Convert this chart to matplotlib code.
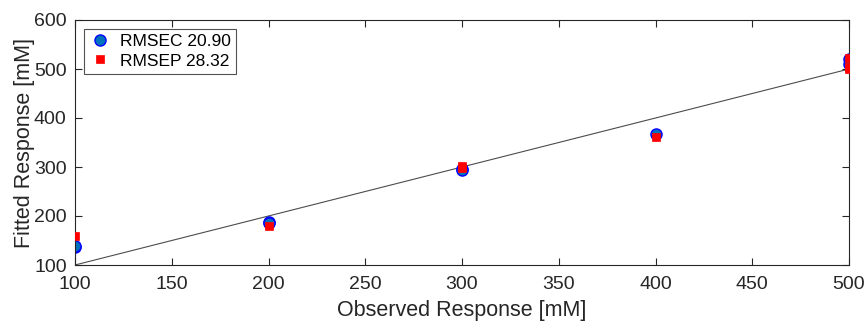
import matplotlib
matplotlib.use("Agg")
import matplotlib.pyplot as plt

cal_x = [100, 100, 200, 200, 300, 300, 400, 500, 500]
cal_y = [137, 138, 188, 186, 296, 294, 367, 520, 510]
pred_x = [100, 200, 300, 300, 400, 500, 500, 500]
pred_y = [160, 180, 302, 298, 361, 522, 504, 500]
line_x = [100, 500]
line_y = [100, 500]
xticks = [100, 150, 200, 250, 300, 350, 400, 450, 500]
yticks = [100, 200, 300, 400, 500, 600]

plt.rcParams['font.family'] = ['Liberation Sans', 'DejaVu Sans']
fig = plt.figure(figsize=(8.68, 3.22), dpi=100)
ax = fig.add_axes([75/868, 1-265/322, (849-75)/868, (265-20)/322])

ax.plot(line_x, line_y, color=(0.3, 0.3, 0.3), lw=0.8, zorder=1)
ax.plot(cal_x, cal_y, 'o', ms=8, mfc=(0, 0.447, 0.741), mec=(0, 0, 1), mew=1.0,
        ls='none', label='RMSEC 20.90', zorder=2)
ax.plot(pred_x, pred_y, 's', ms=6, mfc='red', mec='red', mew=0.5,
        ls='none', label='RMSEP 28.32', zorder=3)

ax.set_xlim(100, 500)
ax.set_ylim(100, 600)
ax.set_xticks(xticks)
ax.set_yticks(yticks)
ax.tick_params(direction='in', which='both', top=True, right=True, length=5,
               labelsize=14, colors=(0.15, 0.15, 0.15), width=0.8)
ax.tick_params(axis='x', pad=8)
ax.tick_params(axis='y', pad=6)
for s in ax.spines.values():
    s.set_color((0.15, 0.15, 0.15))
    s.set_linewidth(0.8)
ax.set_xlabel('Observed Response [mM]', fontsize=15.5, color=(0.15, 0.15, 0.15), labelpad=5)
ax.set_ylabel('Fitted Response [mM]', fontsize=15.5, color=(0.15, 0.15, 0.15), labelpad=-1)

leg = ax.legend(loc='upper left', fontsize=12.5, frameon=True, fancybox=False,
                edgecolor=(0.15, 0.15, 0.15), borderaxespad=0.5, handletextpad=0.5,
                borderpad=0.3, labelspacing=0.25, handlelength=1.3)
leg.get_frame().set_linewidth(0.8)

fig.savefig('out.png', dpi=100)
